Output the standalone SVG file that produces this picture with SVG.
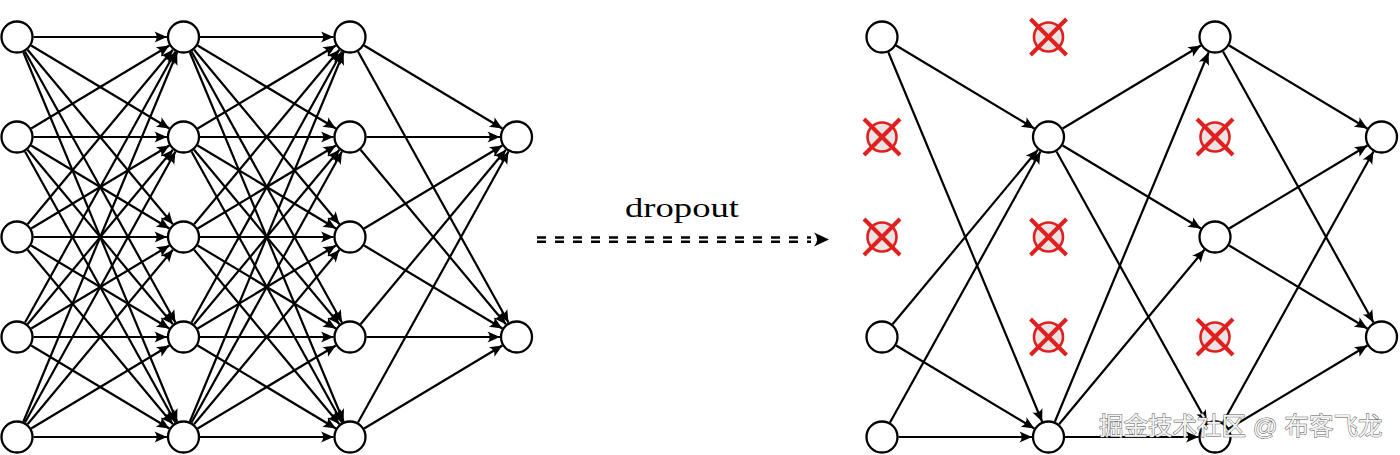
<svg xmlns="http://www.w3.org/2000/svg" width="1400" height="455" viewBox="0 0 1400 455">
<style>
.n{fill:#fff;stroke:#000;stroke-width:2.3}
.e{stroke:#000;stroke-width:2.2;fill:none;marker-end:url(#ah)}
.dc{fill:#eee3e3;stroke:#e0201f;stroke-width:2.6}
.dx{stroke:#e0201f;stroke-width:4}
.dash{stroke:#000;stroke-width:2.6;stroke-dasharray:9 9}
.lbl{font-family:"Liberation Serif","DejaVu Serif",serif;font-size:27px;fill:#000}
.wm{font-family:"Liberation Sans","Noto Sans CJK SC",sans-serif;font-size:24.5px;fill:#f2f2f2;stroke:#555;stroke-width:0.9;paint-order:stroke}
</style>
<defs>
<marker id="ah" markerUnits="userSpaceOnUse" markerWidth="16" markerHeight="14" viewBox="-14 -7 16 14" refX="0" refY="0" orient="auto" overflow="visible">
<path d="M0,0 L-12.5,-5.5 Q-8,0 -12.5,5.5 Z" fill="#000"/>
</marker>
<marker id="ah2" markerUnits="userSpaceOnUse" markerWidth="18" markerHeight="16" viewBox="-16 -8 18 16" refX="0" refY="0" orient="auto" overflow="visible">
<path d="M0,0 L-15,-7 Q-9,0 -15,7 Z" fill="#000"/>
</marker>
<g id="drop">
<circle cx="0" cy="0" r="14.5" class="dc"/>
<line x1="-18" y1="-18" x2="18" y2="18" class="dx"/>
<line x1="18" y1="-18" x2="-18" y2="18" class="dx"/>
</g>
</defs>
<rect width="1400" height="455" fill="#fff"/>
<g id="connectors">
<!-- left: layer1 -> layer2 -->
<line class="e" x1="33.5" y1="37" x2="167" y2="37"/>
<line class="e" x1="31.14" y1="45.5" x2="169.36" y2="128.5"/>
<line class="e" x1="27.56" y1="49.68" x2="172.94" y2="224.32"/>
<line class="e" x1="25.01" y1="51.43" x2="175.49" y2="322.57"/>
<line class="e" x1="23.34" y1="52.23" x2="177.16" y2="421.77"/>
<line class="e" x1="31.14" y1="128.5" x2="169.36" y2="45.5"/>
<line class="e" x1="33.5" y1="137" x2="167" y2="137"/>
<line class="e" x1="31.14" y1="145.5" x2="169.36" y2="228.5"/>
<line class="e" x1="27.56" y1="149.68" x2="172.94" y2="324.32"/>
<line class="e" x1="25.01" y1="151.43" x2="175.49" y2="422.57"/>
<line class="e" x1="27.56" y1="224.32" x2="172.94" y2="49.68"/>
<line class="e" x1="31.14" y1="228.5" x2="169.36" y2="145.5"/>
<line class="e" x1="33.5" y1="237" x2="167" y2="237"/>
<line class="e" x1="31.14" y1="245.5" x2="169.36" y2="328.5"/>
<line class="e" x1="27.56" y1="249.68" x2="172.94" y2="424.32"/>
<line class="e" x1="25.01" y1="322.57" x2="175.49" y2="51.43"/>
<line class="e" x1="27.56" y1="324.32" x2="172.94" y2="149.68"/>
<line class="e" x1="31.14" y1="328.5" x2="169.36" y2="245.5"/>
<line class="e" x1="33.5" y1="337" x2="167" y2="337"/>
<line class="e" x1="31.14" y1="345.5" x2="169.36" y2="428.5"/>
<line class="e" x1="23.34" y1="421.77" x2="177.16" y2="52.23"/>
<line class="e" x1="25.01" y1="422.57" x2="175.49" y2="151.43"/>
<line class="e" x1="27.56" y1="424.32" x2="172.94" y2="249.68"/>
<line class="e" x1="31.14" y1="428.5" x2="169.36" y2="345.5"/>
<line class="e" x1="33.5" y1="437" x2="167" y2="437"/>
<!-- left: layer2 -> layer3 -->
<line class="e" x1="200" y1="37" x2="333.5" y2="37"/>
<line class="e" x1="197.64" y1="45.5" x2="335.86" y2="128.5"/>
<line class="e" x1="194.06" y1="49.68" x2="339.44" y2="224.32"/>
<line class="e" x1="191.51" y1="51.43" x2="341.99" y2="322.57"/>
<line class="e" x1="189.84" y1="52.23" x2="343.66" y2="421.77"/>
<line class="e" x1="197.64" y1="128.5" x2="335.86" y2="45.5"/>
<line class="e" x1="200" y1="137" x2="333.5" y2="137"/>
<line class="e" x1="197.64" y1="145.5" x2="335.86" y2="228.5"/>
<line class="e" x1="194.06" y1="149.68" x2="339.44" y2="324.32"/>
<line class="e" x1="191.51" y1="151.43" x2="341.99" y2="422.57"/>
<line class="e" x1="194.06" y1="224.32" x2="339.44" y2="49.68"/>
<line class="e" x1="197.64" y1="228.5" x2="335.86" y2="145.5"/>
<line class="e" x1="200" y1="237" x2="333.5" y2="237"/>
<line class="e" x1="197.64" y1="245.5" x2="335.86" y2="328.5"/>
<line class="e" x1="194.06" y1="249.68" x2="339.44" y2="424.32"/>
<line class="e" x1="191.51" y1="322.57" x2="341.99" y2="51.43"/>
<line class="e" x1="194.06" y1="324.32" x2="339.44" y2="149.68"/>
<line class="e" x1="197.64" y1="328.5" x2="335.86" y2="245.5"/>
<line class="e" x1="200" y1="337" x2="333.5" y2="337"/>
<line class="e" x1="197.64" y1="345.5" x2="335.86" y2="428.5"/>
<line class="e" x1="189.84" y1="421.77" x2="343.66" y2="52.23"/>
<line class="e" x1="191.51" y1="422.57" x2="341.99" y2="151.43"/>
<line class="e" x1="194.06" y1="424.32" x2="339.44" y2="249.68"/>
<line class="e" x1="197.64" y1="428.5" x2="335.86" y2="345.5"/>
<line class="e" x1="200" y1="437" x2="333.5" y2="437"/>
<!-- left: layer3 -> output -->
<line class="e" x1="364.14" y1="45.5" x2="502.36" y2="128.5"/>
<line class="e" x1="358.01" y1="51.43" x2="508.49" y2="322.57"/>
<line class="e" x1="366.5" y1="137" x2="500" y2="137"/>
<line class="e" x1="360.56" y1="149.68" x2="505.94" y2="324.32"/>
<line class="e" x1="364.14" y1="228.5" x2="502.36" y2="145.5"/>
<line class="e" x1="364.14" y1="245.5" x2="502.36" y2="328.5"/>
<line class="e" x1="360.56" y1="324.32" x2="505.94" y2="149.68"/>
<line class="e" x1="366.5" y1="337" x2="500" y2="337"/>
<line class="e" x1="358.01" y1="422.57" x2="508.49" y2="151.43"/>
<line class="e" x1="364.14" y1="428.5" x2="502.36" y2="345.5"/>
<!-- right: layer1 -> layer2 -->
<line class="e" x1="896.14" y1="45.5" x2="1034.36" y2="128.5"/>
<line class="e" x1="888.34" y1="52.23" x2="1042.16" y2="421.77"/>
<line class="e" x1="892.56" y1="324.32" x2="1037.94" y2="149.68"/>
<line class="e" x1="896.14" y1="345.5" x2="1034.36" y2="428.5"/>
<line class="e" x1="890.01" y1="422.57" x2="1040.49" y2="151.43"/>
<line class="e" x1="898.5" y1="437" x2="1032" y2="437"/>
<!-- right: layer2 -> layer3 -->
<line class="e" x1="1062.64" y1="128.5" x2="1200.86" y2="45.5"/>
<line class="e" x1="1062.64" y1="145.5" x2="1200.86" y2="228.5"/>
<line class="e" x1="1056.51" y1="151.43" x2="1206.99" y2="422.57"/>
<line class="e" x1="1054.84" y1="421.77" x2="1208.66" y2="52.23"/>
<line class="e" x1="1059.06" y1="424.32" x2="1204.44" y2="249.68"/>
<line class="e" x1="1065" y1="437" x2="1198.5" y2="437"/>
<!-- right: layer3 -> output -->
<line class="e" x1="1229.14" y1="45.5" x2="1367.36" y2="128.5"/>
<line class="e" x1="1223.01" y1="51.43" x2="1373.49" y2="322.57"/>
<line class="e" x1="1229.14" y1="228.5" x2="1367.36" y2="145.5"/>
<line class="e" x1="1229.14" y1="245.5" x2="1367.36" y2="328.5"/>
<line class="e" x1="1223.01" y1="422.57" x2="1373.49" y2="151.43"/>
<line class="e" x1="1229.14" y1="428.5" x2="1367.36" y2="345.5"/>
<!-- dropout arrow -->
<line class="dash" x1="537" y1="237.5" x2="811" y2="237.5"/>
<line class="dash" x1="537" y1="241.7" x2="811" y2="241.7"/>
<line x1="812" y1="239.6" x2="829" y2="239.6" stroke="none" marker-end="url(#ah2)"/>
</g>
<g id="left-net">
<g id="L1"><circle class="n" cx="17" cy="37" r="15.5"/><circle class="n" cx="17" cy="137" r="15.5"/><circle class="n" cx="17" cy="237" r="15.5"/><circle class="n" cx="17" cy="337" r="15.5"/><circle class="n" cx="17" cy="437" r="15.5"/></g>
<g id="L2"><circle class="n" cx="183.5" cy="37" r="15.5"/><circle class="n" cx="183.5" cy="137" r="15.5"/><circle class="n" cx="183.5" cy="237" r="15.5"/><circle class="n" cx="183.5" cy="337" r="15.5"/><circle class="n" cx="183.5" cy="437" r="15.5"/></g>
<g id="L3"><circle class="n" cx="350" cy="37" r="15.5"/><circle class="n" cx="350" cy="137" r="15.5"/><circle class="n" cx="350" cy="237" r="15.5"/><circle class="n" cx="350" cy="337" r="15.5"/><circle class="n" cx="350" cy="437" r="15.5"/></g>
<g id="L4"><circle class="n" cx="516.5" cy="137" r="15.5"/><circle class="n" cx="516.5" cy="337" r="15.5"/></g>
</g>
<g id="right-net">
<g id="R1"><circle class="n" cx="882" cy="37" r="15.5"/><use href="#drop" x="882" y="137"/><use href="#drop" x="882" y="237"/><circle class="n" cx="882" cy="337" r="15.5"/><circle class="n" cx="882" cy="437" r="15.5"/></g>
<g id="R2"><use href="#drop" x="1048.5" y="37"/><circle class="n" cx="1048.5" cy="137" r="15.5"/><use href="#drop" x="1048.5" y="237"/><use href="#drop" x="1048.5" y="337"/><circle class="n" cx="1048.5" cy="437" r="15.5"/></g>
<g id="R3"><circle class="n" cx="1215" cy="37" r="15.5"/><use href="#drop" x="1215" y="137"/><circle class="n" cx="1215" cy="237" r="15.5"/><use href="#drop" x="1215" y="337"/><circle class="n" cx="1215" cy="437" r="15.5"/></g>
<g id="R4"><circle class="n" cx="1381.5" cy="137" r="15.5"/><circle class="n" cx="1381.5" cy="337" r="15.5"/></g>
</g>
<g id="label"><text class="lbl" x="682" y="217" text-anchor="middle" textLength="114" lengthAdjust="spacingAndGlyphs">dropout</text></g>
<g id="watermark"><text class="wm" x="1099" y="435">掘金技术社区 @ 布客飞龙</text></g>
</svg>
